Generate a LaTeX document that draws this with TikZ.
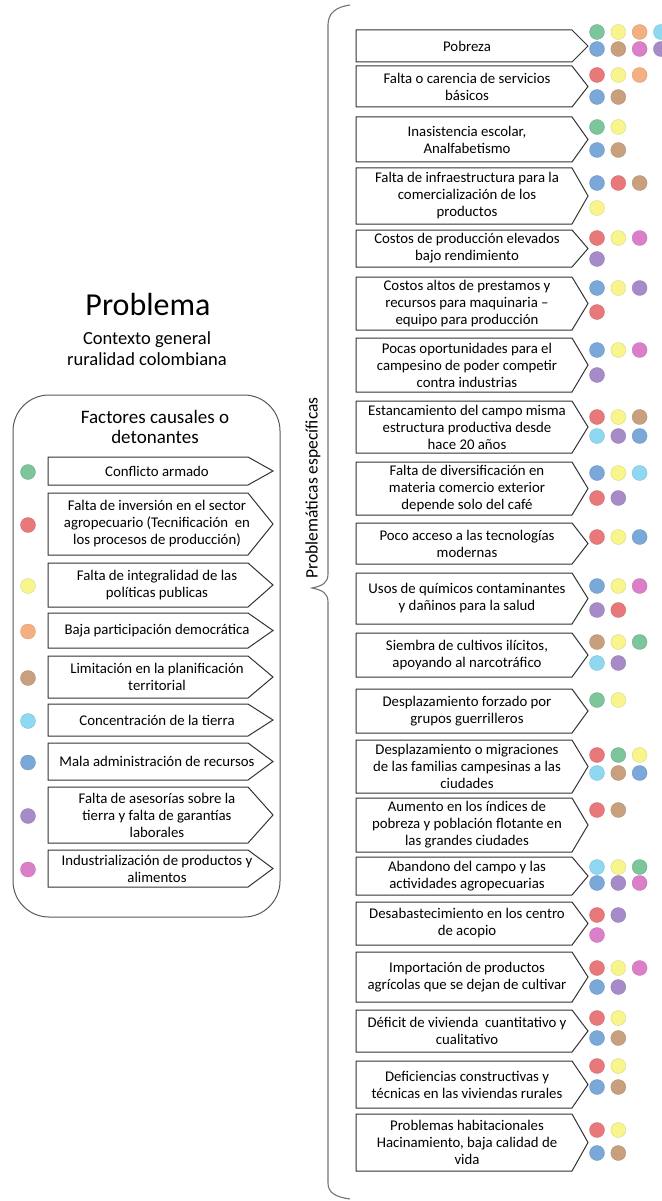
\documentclass[tikz,border=0pt]{standalone}
\usepackage{fontspec}
\setmainfont{Carlito}
\definecolor{cg}{HTML}{7DC59B}
\definecolor{cr}{HTML}{E8787A}
\definecolor{cy}{HTML}{F8F58C}
\definecolor{co}{HTML}{F5B081}
\definecolor{ct}{HTML}{C9A07E}
\definecolor{cc}{HTML}{8ED8F2}
\definecolor{cb}{HTML}{7AA8D8}
\definecolor{cp}{HTML}{A78BC8}
\definecolor{cm}{HTML}{DC7FC9}
\definecolor{edge}{HTML}{333333}
\tikzset{
  boxline/.style={draw=edge, line width=1pt, fill=white, line join=miter},
  boxtext/.style={align=center, inner sep=0pt, font=\fontsize{14.8}{17}\selectfont},
  dotfill/.style={fill=#1, draw=#1!85!black, line width=0.3pt},
}
\newcommand\rbox[4]{%
  \draw[boxline] (356,#2) -- (572,#2) -- (588,{(#2+#3)/2}) -- (572,#3) -- (356,#3) -- cycle;
  \node[boxtext] (#1) at (467,{(#2+#3)/2}) {#4};}
\newcommand\lbox[5]{%
  \draw[boxline] (48,#2) -- (248,#2) -- (273,{(#2+#3)/2}) -- (248,#3) -- (48,#3) -- cycle;
  \node[boxtext] (#1) at (157,{(#2+#3)/2}) {#4};
  \fill[dotfill=#5] (28,{(#2+#3)/2+1}) circle[radius=7.5];}
\newcommand\drow[2]{%
  \foreach \c [count=\i from 0] in {#2} {\fill[dotfill=\c] ({597+21.3*\i},#1) circle[radius=7.5];}}
\begin{document}
\begin{tikzpicture}[x=1pt,y=-1pt]
\useasboundingbox (0,0) rectangle (661,1201);
% titles
\node[anchor=base, font=\fontsize{32}{36}\selectfont, inner sep=0pt] (title) at (148,315) {Problema};
\node[anchor=base, align=center, font=\fontsize{18.5}{21}\selectfont, inner sep=0pt] (sub) at (147,365) {Contexto general\\ruralidad colombiana};
% container
\draw[draw=black!65, line width=1pt, rounded corners=36pt] (13,395) rectangle (280,917);
\node[anchor=base, align=center, font=\fontsize{19}{20}\selectfont, inner sep=0pt] (fac) at (155,443) {Factores causales o\\detonantes};
% left boxes
\lbox{l1}{457}{485}{Conflicto armado}{cg}
\lbox{l2}{493}{555}{Falta de inversión en el sector\\agropecuario (Tecnificación\ \ en\\los procesos de producción)}{cr}
\lbox{l3}{563}{607}{Falta de integralidad de las\\políticas publicas}{cy}
\lbox{l4}{613}{648}{Baja participación democrática}{co}
\lbox{l5}{656}{698}{Limitación en la planificación\\territorial}{ct}
\lbox{l6}{704}{736}{Concentración de la tierra}{cc}
\lbox{l7}{743}{780}{Mala administración de recursos}{cb}
\lbox{l8}{787}{843}{Falta de asesorías sobre la\\tierra y falta de garantías\\laborales}{cp}
\lbox{l9}{850}{887}{Industrialización de productos y\\alimentos}{cm}
% brace and label
\draw[draw=black!55, line width=1.1pt] (350,5) .. controls (336,7) and (328,13) .. (328,25) -- (328,574)
  .. controls (328,583) and (322,586) .. (312,588) .. controls (322,590) and (328,593) .. (328,602)
  -- (328,1183) .. controls (328,1193) and (336,1197) .. (350,1199);
\node[rotate=90, font=\fontsize{17.5}{20}\selectfont, inner sep=0pt] (lbl) at (313,488) {Problemáticas específicas};
% right boxes
\rbox{r1}{30}{62}{Pobreza}
\drow{32}{cg,cy,co,cc}\drow{49}{cb,ct,cm,cp}
\rbox{r2}{66}{107}{Falta o carencia de servicios\\básicos}
\drow{75}{cr,cy,co}\drow{97}{cb,ct}
\rbox{r3}{117}{162}{Inasistencia escolar,\\Analfabetismo}
\drow{127}{cg,cy}\drow{150}{cb,ct}
\rbox{r4}{168}{224}{Falta de infraestructura para la\\comercialización de los\\productos}
\drow{183}{cb,cr,ct}\drow{208}{cy}
\rbox{r5}{230}{267}{Costos de producción elevados\\bajo rendimiento}
\drow{238}{cr,cy,cm}\drow{259}{cp}
\rbox{r6}{277}{330}{Costos altos de prestamos y\\recursos para maquinaria –\\equipo para producción}
\drow{288}{cb,cy,cp}\drow{312}{cr}
\rbox{r7}{338}{392}{Pocas oportunidades para el\\campesino de poder competir\\contra industrias}
\drow{350}{cb,cy,cm}\drow{375}{cp}
\rbox{r8}{401}{453}{Estancamiento del campo misma\\estructura productiva desde\\hace 20 años}
\drow{417}{cr,cy,ct}\drow{436}{cc,cp,cb}
\rbox{r9}{462}{515}{Falta de diversificación en\\materia comercio exterior\\depende solo del café}
\drow{473}{cb,cy,cc}\drow{498}{cr,cp}
\rbox{r10}{523}{564}{Poco acceso a las tecnologías\\modernas}
\drow{537}{cr,cy,cb}
\rbox{r11}{573}{624}{Usos de químicos contaminantes\\y dañinos para la salud}
\drow{586}{cb,cy,cm}\drow{610}{cp,cr}
\rbox{r12}{633}{677}{Siembra de cultivos ilícitos,\\apoyando al narcotráfico}
\drow{642}{ct,cy,cg}\drow{663}{cc,cp}
\rbox{r13}{689}{733}{Desplazamiento forzado por\\grupos guerrilleros}
\drow{700}{cg,cy}
\rbox{r14}{740}{793}{Desplazamiento o migraciones\\de las familias campesinas a las\\ciudades}
\drow{755}{cr,cg,cy}\drow{773}{cc,ct,cb}
\rbox{r15}{798}{852}{Aumento en los índices de\\pobreza y población flotante en\\las grandes ciudades}
\drow{810}{cr,ct}
\rbox{r16}{857}{895}{Abandono del campo y las\\actividades agropecuarias}
\drow{867}{cc,cy,cg}\drow{883}{cb,cp,cm}
\rbox{r17}{902}{945}{Desabastecimiento en los centro\\de acopio}
\drow{915}{cr,cp}\drow{935}{cm}
\rbox{r18}{952}{1002}{Importación de productos\\agrícolas que se dejan de cultivar}
\drow{968}{cr,cy,cm}\drow{987}{cb,cp}
\rbox{r19}{1010}{1052}{Déficit de vivienda\ \ cuantitativo y\\cualitativo}
\drow{1018}{cr,cy}\drow{1038}{cb,ct}
\rbox{r20}{1061}{1108}{Deficiencias constructivas y\\técnicas en las viviendas rurales}
\drow{1066}{cr,cy}\drow{1087}{cb,ct}
\rbox{r21}{1114}{1171}{Problemas habitacionales\\Hacinamiento, baja calidad de\\vida}
\drow{1130}{cr,cy}\drow{1153}{cb,ct}
\end{tikzpicture}
\end{document}
